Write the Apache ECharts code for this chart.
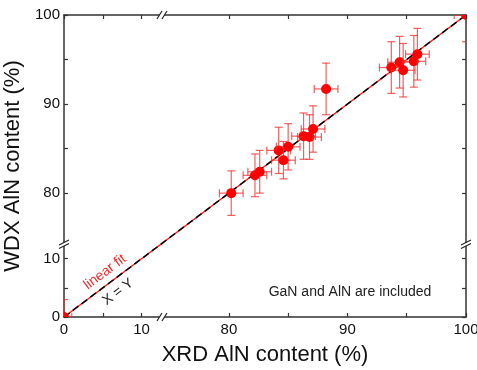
<!DOCTYPE html>
<html>
<head>
<meta charset="utf-8">
<script src="https://cdn.jsdelivr.net/npm/echarts@6.0.0/dist/echarts.min.js"></script>
<style>
html, body { margin: 0; padding: 0; background: #fff; }
#chart { width: 477px; height: 370px; }
</style>
</head>
<body>
<div id="chart"></div>
<script>
// AlN content, XRD vs WDX (%)
const xrd  = [80.2, 82.2, 82.6, 84.2, 84.6, 85.0, 86.3, 86.8, 87.1, 88.2, 93.7, 94.4, 94.7, 95.6, 95.9, 0, 100];
const wdx  = [80.0, 82.0, 82.4, 84.8, 83.7, 85.2, 86.4, 86.3, 87.2, 91.7, 94.1, 94.7, 93.8, 94.8, 95.6, 0, 100];
const xErr = [1.0, 1.0, 1.0, 1.0, 1.0, 1.0, 1.0, 1.0, 1.0, 1.0, 1.0, 1.0, 1.0, 1.0, 1.0, 1.0, 1.0];
const yErr = [2.5, 2.4, 2.4, 2.6, 2.1, 2.6, 2.6, 2.5, 2.6, 2.9, 2.9, 2.9, 3.0, 2.9, 2.9, 3.0, 3.0];

// lines: linear fit and X = Y (end points)
const fitLine = [[0, 0], [100, 100]];
const xyLine = [[0, 0], [100, 100]];

const tickValues = [0, 5, 10, 80, 85, 90, 95, 100];
const tickLabels = [0, 10, 80, 90, 100];

// broken axis: 0..lowEnd and highStart..100, each with its own scale
const lowEnd = 12.7, highStart = 74.4;
const BRK = 24.5; // share of the axis taken by the low part
function toAxis(v) {
  if (v <= lowEnd) return v * BRK / lowEnd;
  return BRK + (v - highStart) * (100 - BRK) / (100 - highStart);
}
function labelOf(val) {
  const t = tickLabels.find(v => Math.abs(toAxis(v) - val) < 0.01);
  return t === undefined ? '' : String(t);
}

const FONT = 'Liberation Sans, Arial, sans-serif';
const axisColor = '#333';

function makeAxis(pos, isX, show) {
  return {
    type: 'value',
    position: pos,
    min: 0,
    max: 100,
    name: show ? (isX ? 'XRD AlN content (%)' : 'WDX AlN content (%)') : '',
    nameLocation: 'middle',
    nameGap: isX ? 27 : 35,
    nameTextStyle: { fontFamily: FONT, fontSize: 22, color: '#111' },
    splitLine: { show: false },
    axisLine: { show: true, onZero: false, lineStyle: { color: axisColor, width: 1.5 } },
    axisTick: {
      show: true, inside: true, length: 4,
      customValues: tickValues.map(toAxis),
      lineStyle: { color: axisColor, width: 1.2 }
    },
    axisLabel: {
      show: show,
      customValues: tickLabels.map(toAxis),
      formatter: labelOf,
      fontFamily: FONT, fontSize: 15, color: '#111',
      margin: isX ? 5 : 4
    }
  };
}

let myChart = echarts.init(document.getElementById('chart'));

const pointData = xrd.map((x, i) => [
  toAxis(x), toAxis(wdx[i]),
  toAxis(x - xErr[i]), toAxis(x + xErr[i]),
  toAxis(wdx[i] - yErr[i]), toAxis(wdx[i] + yErr[i])
]);

// break marks sit where the two parts of each axis meet
const breakData = [
  [toAxis(lowEnd), toAxis(0), 'h'],
  [toAxis(lowEnd), toAxis(100), 'h'],
  [toAxis(0), toAxis(lowEnd), 'v'],
  [toAxis(100), toAxis(lowEnd), 'v']
];

option = {
  animation: false,
  backgroundColor: '#fff',
  grid: { left: 64, right: 11, top: 15, bottom: 53, containLabel: false, outerBoundsMode: 'none' },
  xAxis: [makeAxis('bottom', true, true), makeAxis('top', true, false)],
  yAxis: [makeAxis('left', false, true), makeAxis('right', false, false)],
  series: [
    {
      name: 'linear fit',
      type: 'line',
      data: fitLine.map(p => [toAxis(p[0]), toAxis(p[1])]),
      symbol: 'none',
      lineStyle: { color: '#ff1a1a', width: 1.5 },
      z: 3
    },
    {
      name: 'X = Y',
      type: 'line',
      data: xyLine.map(p => [toAxis(p[0]), toAxis(p[1])]),
      symbol: 'none',
      lineStyle: { color: '#000', width: 1.5, type: [7, 4] },
      z: 4
    },
    {
      // points with x and y error bars, clipped to the plot area
      name: 'data',
      type: 'custom',
      clip: true,
      z: 5,
      data: pointData,
      encode: { x: 0, y: 1 },
      renderItem: function (params, api) {
        const x = api.value(0), y = api.value(1);
        const c = api.coord([x, y]);
        const l = api.coord([api.value(2), y]);
        const r = api.coord([api.value(3), y]);
        const b = api.coord([x, api.value(4)]);
        const t = api.coord([x, api.value(5)]);
        const cap = 4;
        const style = { stroke: 'rgba(245,40,40,0.75)', lineWidth: 1.2 };
        return {
          type: 'group',
          children: [
            { type: 'line', shape: { x1: l[0], y1: l[1], x2: r[0], y2: r[1] }, style: style },
            { type: 'line', shape: { x1: l[0], y1: l[1] - cap, x2: l[0], y2: l[1] + cap }, style: style },
            { type: 'line', shape: { x1: r[0], y1: r[1] - cap, x2: r[0], y2: r[1] + cap }, style: style },
            { type: 'line', shape: { x1: b[0], y1: b[1], x2: t[0], y2: t[1] }, style: style },
            { type: 'line', shape: { x1: b[0] - cap, y1: b[1], x2: b[0] + cap, y2: b[1] }, style: style },
            { type: 'line', shape: { x1: t[0] - cap, y1: t[1], x2: t[0] + cap, y2: t[1] }, style: style },
            { type: 'circle', shape: { cx: c[0], cy: c[1], r: 5 }, style: { fill: '#ff0000' } }
          ]
        };
      }
    },
    {
      name: 'breaks',
      type: 'custom',
      clip: false,
      z: 10,
      silent: true,
      data: breakData,
      encode: { x: 0, y: 1 },
      renderItem: function (params, api) {
        const p = api.coord([api.value(0), api.value(1)]);
        const horiz = api.value(2) === 'h';
        const s = { stroke: '#222', lineWidth: 1.2 };
        let a, b;
        if (horiz) {
          a = [p[0] - 5.5, p[1] + 4, p[0] - 0.5, p[1] - 4];
          b = [p[0] - 0.5, p[1] + 4, p[0] + 4.5, p[1] - 4];
        } else {
          a = [p[0] - 5, p[1] + 2, p[0] + 5, p[1] - 3];
          b = [p[0] - 5, p[1] + 5.5, p[0] + 5, p[1] + 0.5];
        }
        const poly = [[a[0], a[1]], [a[2], a[3]], [b[2], b[3]], [b[0], b[1]]];
        return {
          type: 'group',
          children: [
            { type: 'polygon', shape: { points: poly }, style: { fill: '#fff' } },
            { type: 'line', shape: { x1: a[0], y1: a[1], x2: a[2], y2: a[3] }, style: s },
            { type: 'line', shape: { x1: b[0], y1: b[1], x2: b[2], y2: b[3] }, style: s }
          ]
        };
      }
    }
  ],
  graphic: [
    {
      type: 'text', x: 105, y: 272, rotation: 0.644,
      style: { text: 'linear fit', fill: '#ee2a2a', font: '14px ' + FONT, align: 'center', verticalAlign: 'middle' }
    },
    {
      type: 'text', x: 118, y: 292, rotation: 0.644,
      style: { text: 'X = Y', fill: '#222', font: '14px ' + FONT, align: 'center', verticalAlign: 'middle' }
    },
    {
      type: 'text', x: 350, y: 292,
      style: { text: 'GaN and AlN are included', fill: '#222', font: '14px ' + FONT, align: 'center', verticalAlign: 'middle' }
    }
  ]
};

myChart.setOption(option);
</script>
</body>
</html>
